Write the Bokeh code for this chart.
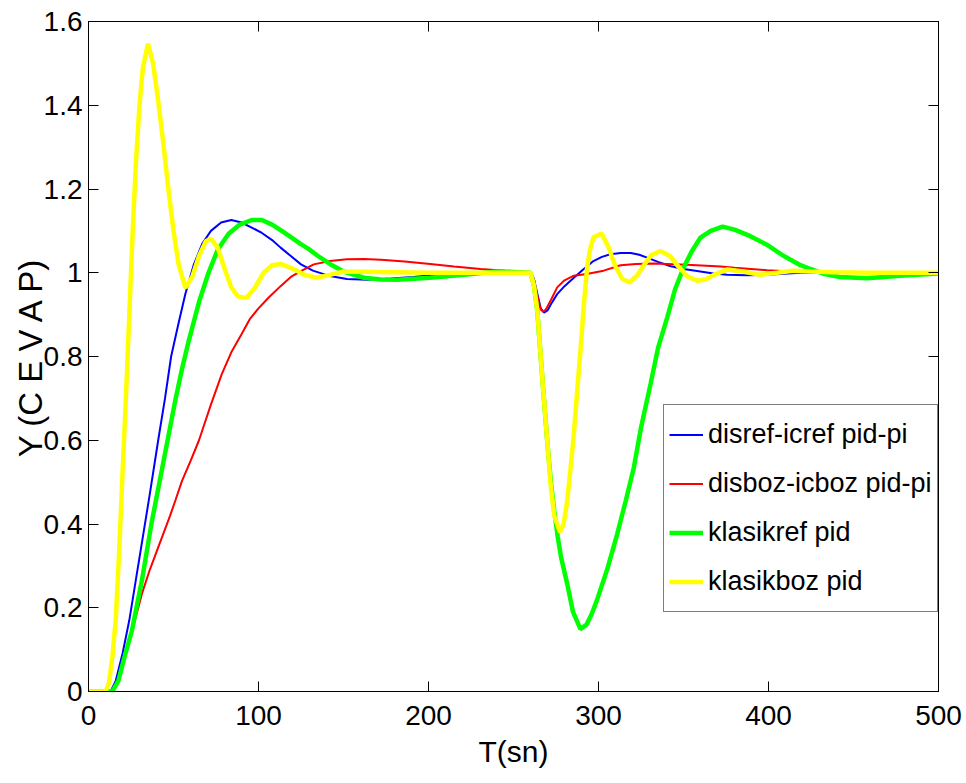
from bokeh.plotting import figure
from bokeh.models import LinearAxis, Range1d, FixedTicker, Legend, LegendItem
from bokeh.embed import file_html
from bokeh.resources import INLINE

# ---- data ----
t_blue = [0, 13, 16, 20, 24, 28, 32, 36, 41, 45, 48.6, 53, 57, 62, 67, 72, 78, 84, 90, 96, 102, 108, 113,
          119, 125, 132, 142, 152, 164, 178, 191, 210, 230, 260,
          262, 264, 266, 268, 270, 272, 275.7, 280, 285.5, 291, 297, 302, 307, 313, 319, 324, 328.6, 335,
          342, 350, 358, 367.6, 375.7, 387, 399, 419, 440, 500]
y_blue = [0, 0, 0.025, 0.09, 0.17, 0.27, 0.37, 0.47, 0.6, 0.7, 0.8, 0.88, 0.95, 1.02, 1.07, 1.1, 1.12, 1.126,
          1.12, 1.108, 1.095, 1.078, 1.06, 1.04, 1.02, 1.005, 0.992, 0.985, 0.983, 0.986, 0.99, 0.997, 1.0, 1.0,
          0.985, 0.95, 0.915, 0.905, 0.91, 0.925, 0.949, 0.968, 0.988, 1.008, 1.028, 1.038, 1.044, 1.047,
          1.047, 1.043, 1.036, 1.026, 1.016, 1.009, 1.004, 0.998, 0.995, 0.994, 0.995, 1.0, 1.0, 1.0]

t_red = [0, 13, 17.6, 21, 26, 31.4, 36, 41, 48, 51, 55, 60, 65, 72, 78.4, 84, 90, 95, 100, 106, 113, 119,
         125.5, 132.5, 142, 152, 162, 172, 186, 201, 215, 230.6, 245, 258, 260,
         262, 264, 266, 267.5, 269, 272, 275.7, 280, 285.5, 293, 303, 313, 322, 332.5, 352, 372, 380, 399,
         420, 450, 500]
y_red = [0, 0, 0.026, 0.08, 0.15, 0.233, 0.29, 0.344, 0.42, 0.455, 0.503, 0.55, 0.6, 0.685, 0.758, 0.81,
         0.853, 0.89, 0.915, 0.941, 0.968, 0.99, 1.005, 1.02, 1.028, 1.032, 1.033, 1.031, 1.027, 1.021,
         1.015, 1.009, 1.005, 1.002, 1.0,
         0.985, 0.945, 0.912, 0.907, 0.912, 0.935, 0.965, 0.982, 0.993, 0.997, 1.005, 1.018, 1.021, 1.022,
         1.019, 1.015, 1.012, 1.006, 1.002, 1.0, 1.0]

t_green = [0, 14, 17.6, 21, 25.5, 31.4, 37, 42, 47, 51, 55, 59, 65, 70.6, 76, 82.4, 89, 96, 102, 108, 113,
           118, 124.7, 129.4, 135, 142, 150, 162, 172, 181.6, 201, 221, 240, 250, 260,
           262, 264, 266, 268, 270, 272, 274, 276, 278, 281.6, 285, 289.4, 293, 296, 299, 305, 311, 316,
           320.8, 325, 330.6, 335, 340.4, 345, 350, 355, 360, 366, 373, 380, 389, 399, 409, 418.8, 424.7,
           433, 442, 458, 477.6, 490, 500]
y_green = [0, 0, 0.026, 0.08, 0.145, 0.265, 0.4, 0.505, 0.61, 0.694, 0.77, 0.838, 0.93, 1.0, 1.055, 1.093,
           1.115, 1.126, 1.126, 1.115, 1.102, 1.088, 1.069, 1.057, 1.04, 1.021, 1.003, 0.988, 0.984, 0.983,
           0.988, 0.995, 1.003, 1.002, 1.0,
           0.97, 0.909, 0.8, 0.694, 0.59, 0.5, 0.43, 0.37, 0.32, 0.257, 0.19, 0.149, 0.16, 0.185, 0.217,
           0.29, 0.376, 0.455, 0.535, 0.63, 0.734, 0.82, 0.893, 0.96, 1.012, 1.052, 1.084, 1.1, 1.11, 1.103,
           1.088, 1.067, 1.04, 1.018, 1.009, 0.997, 0.99, 0.987, 0.993, 0.996, 0.998]

t_yellow = [0, 10, 12, 14, 16, 18, 20, 22, 24, 26, 28, 30, 32, 35, 38, 41, 44, 47, 50, 53, 57, 61, 65, 69,
            72, 76, 80, 84, 88, 93, 98, 103, 108, 113, 120, 127, 134, 142, 150, 170, 200, 230, 260,
            262, 264, 266, 268, 270, 271.8, 274, 277.3, 279.5, 281.6, 283.5, 285.5, 287.5, 289.4, 291.3,
            293.3, 295, 297, 301.8, 306, 310, 314, 318.4, 323, 327, 331, 336.5, 342, 347, 352, 358, 363,
            368, 375.7, 385, 395, 405, 414.7, 425, 438, 460, 500]
y_yellow = [0, 0, 0.02, 0.08, 0.17, 0.33, 0.52, 0.7, 0.9, 1.1, 1.27, 1.4, 1.49, 1.547, 1.5, 1.41, 1.31,
            1.2, 1.1, 1.02, 0.964, 0.99, 1.04, 1.075, 1.081, 1.06, 1.01, 0.965, 0.943, 0.94, 0.965, 1.0,
            1.018, 1.021, 1.01, 0.995, 0.988, 0.995, 1.003, 1.002, 1.0, 1.0, 1.0,
            0.97, 0.909, 0.8, 0.694, 0.59, 0.496, 0.42, 0.38, 0.4, 0.455, 0.53, 0.615, 0.72, 0.814, 0.92,
            1.012, 1.055, 1.084, 1.094, 1.06, 1.015, 0.985, 0.977, 0.995, 1.02, 1.042, 1.052, 1.04, 1.015,
            0.992, 0.981, 0.984, 0.995, 1.008, 1.003, 0.995, 1.0, 1.005, 1.003, 1.001, 1.0, 1.0]

series_names = ["disref-icref pid-pi", "disboz-icboz pid-pi", "klasikref pid", "klasikboz pid"]
x_ticks = [0, 100, 200, 300, 400, 500]
y_ticks = [0, 0.2, 0.4, 0.6, 0.8, 1.0, 1.2, 1.4, 1.6]
y_tick_labels = ["0", "0.2", "0.4", "0.6", "0.8", "1", "1.2", "1.4", "1.6"]
x_label = "T(sn)"
y_label = "Y (C E V A P)"

FONT = "Liberation Sans"

p = figure(frame_width=850, frame_height=670,
           x_range=Range1d(0, 500), y_range=Range1d(0, 1.6),
           output_backend="svg", toolbar_location=None,
           min_border_left=88, min_border_right=28, min_border_top=21, min_border_bottom=92)
p.grid.visible = False
p.outline_line_color = "black"
p.outline_line_width = 1
p.background_fill_color = "white"
p.border_fill_color = "white"


def style_axis(ax, ticks, show_labels):
    ax.ticker = FixedTicker(ticks=ticks)
    ax.major_tick_in = 10
    ax.major_tick_out = 0
    ax.minor_tick_in = 0
    ax.minor_tick_out = 0
    ax.axis_line_color = "black"
    ax.major_tick_line_color = "black"
    ax.major_label_text_font = FONT
    ax.major_label_text_color = "black"
    if show_labels:
        ax.major_label_text_font_size = "28px"
    else:
        ax.major_label_text_font_size = "8px"
        ax.major_label_overrides = {v: "" for v in ticks}
        ax.major_label_standoff = 0


style_axis(p.xaxis[0], x_ticks, True)
style_axis(p.yaxis[0], y_ticks, True)
p.yaxis[0].major_label_overrides = {v: s for v, s in zip(y_ticks, y_tick_labels)}
p.xaxis[0].major_label_standoff = 14
p.yaxis[0].major_label_standoff = 6
p.xaxis[0].axis_label = x_label
p.yaxis[0].axis_label = y_label
for ax in (p.xaxis[0], p.yaxis[0]):
    ax.axis_label_text_font = FONT
    ax.axis_label_text_font_style = "normal"
    ax.axis_label_text_color = "black"
p.xaxis[0].axis_label_text_font_size = "30px"
p.yaxis[0].axis_label_text_font_size = "33px"
p.xaxis[0].axis_label_standoff = 7
p.yaxis[0].axis_label_standoff = -8

top_ax = LinearAxis()
right_ax = LinearAxis()
style_axis(top_ax, x_ticks, False)
style_axis(right_ax, y_ticks, False)
p.add_layout(top_ax, "above")
p.add_layout(right_ax, "right")

r1 = p.line(t_blue, y_blue, line_color="#0000FF", line_width=2)
r2 = p.line(t_red, y_red, line_color="#FF0000", line_width=2)
r3 = p.line(t_green, y_green, line_color="#00FF00", line_width=4.5)
r4 = p.line(t_yellow, y_yellow, line_color="#FFFF00", line_width=4.5)

legend = Legend(items=[LegendItem(label=n, renderers=[r]) for n, r in zip(series_names, [r1, r2, r3, r4])],
                location=(575, 79))
legend.label_text_font = FONT
legend.label_text_font_size = "27px"
legend.label_text_color = "black"
legend.label_height = 49
legend.glyph_height = 49
legend.glyph_width = 34
legend.spacing = 0
legend.padding = 5
legend.margin = 0
legend.label_standoff = 5
legend.border_line_color = "black"
legend.border_line_width = 1
legend.background_fill_color = "white"
legend.background_fill_alpha = 1
p.add_layout(legend)

open("out.html", "w").write(file_html(p, INLINE))
